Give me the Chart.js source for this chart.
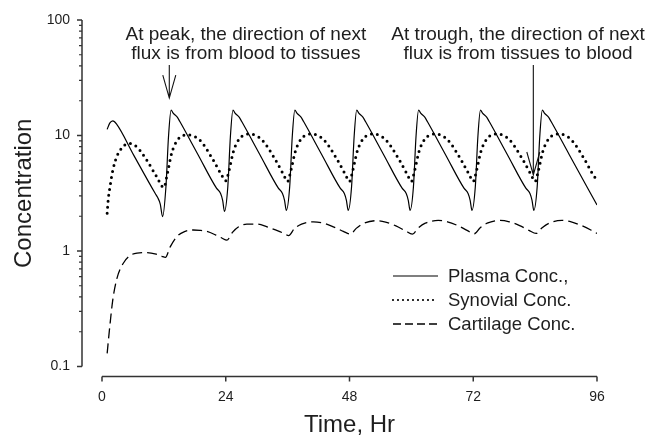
<!DOCTYPE html>
<html>
<head>
<meta charset="utf-8">
<title>Plasma, Synovial and Cartilage Concentration</title>
<script src="https://cdn.jsdelivr.net/npm/chart.js@4.4.1/dist/chart.umd.min.js"></script>
<style>
	html, body { margin: 0; padding: 0; background: #fff; }
	#wrap { width: 649px; height: 435px; }
</style>
</head>
<body>
<div id="wrap"><canvas id="concChart" width="649" height="435"></canvas></div>
<script>
//	Time (hr) and concentration values
var plasmaTime = [
	1, 1.5, 2.1, 2.8, 6.2, 10.3, 10.8, 11.3, 11.75,
	12.4, 12.9, 13.4, 13.8, 14.6, 15.1, 18.6, 22.2, 23.0, 23.4, 23.75,
	24.4, 24.9, 25.4, 25.8, 26.6, 27.1, 30.6, 34.2, 35.0, 35.4, 35.75,
	36.4, 36.9, 37.4, 37.8, 38.6, 39.1, 42.6, 46.2, 47.0, 47.4, 47.75,
	48.4, 48.9, 49.4, 49.8, 50.6, 51.1, 54.6, 58.2, 59.0, 59.4, 59.75,
	60.4, 60.9, 61.4, 61.8, 62.6, 63.1, 66.6, 70.2, 71.0, 71.4, 71.75,
	72.4, 72.9, 73.4, 73.8, 74.6, 75.1, 78.6, 82.2, 83.0, 83.4, 83.75,
	84.4, 84.9, 85.4, 85.8, 86.6, 87.1, 90.6, 96
];
var plasmaConc = [
	11.3, 12.8, 13.4, 12.6, 6.7, 3.16, 2.9, 2.55, 1.98,
	3.6, 9.8, 16.6, 15.6, 14.4, 13.2, 6.85, 3.5, 3.15, 2.75, 2.2,
	3.6, 9.8, 16.6, 15.6, 14.4, 13.2, 6.85, 3.5, 3.15, 2.75, 2.25,
	3.6, 9.8, 16.6, 15.6, 14.4, 13.2, 6.85, 3.5, 3.15, 2.75, 2.25,
	3.6, 9.8, 16.6, 15.6, 14.4, 13.2, 6.85, 3.5, 3.15, 2.75, 2.25,
	3.6, 9.8, 16.6, 15.6, 14.4, 13.2, 6.85, 3.5, 3.15, 2.75, 2.25,
	3.6, 9.8, 16.6, 15.6, 14.4, 13.2, 6.85, 3.5, 3.15, 2.75, 2.25,
	3.6, 9.8, 16.6, 15.6, 14.4, 13.2, 6.85, 2.5
];

var synovialTime = [
	1, 1.2, 1.55, 2.1, 2.85, 3.8, 5.1, 6.7, 8.7, 10.6, 12.0,
	12.6, 13.5, 14.6, 16.7, 19.0, 21.6, 23.2, 24.0,
	24.6, 25.5, 26.6, 28.7, 31.0, 33.6, 35.2, 36.0,
	36.6, 37.5, 38.6, 40.7, 43.0, 45.6, 47.2, 48.0,
	48.6, 49.5, 50.6, 52.7, 55.0, 57.6, 59.2, 60.0,
	60.6, 61.5, 62.6, 64.7, 67.0, 69.6, 71.2, 72.0,
	72.6, 73.5, 74.6, 76.7, 79.0, 81.6, 83.2, 84.0,
	84.6, 85.5, 86.6, 88.7, 91.0, 93.6, 95.2, 96.0
];
var synovialConc = [
	2.12, 2.77, 3.6, 5.0, 6.55, 7.75, 8.55, 8.0, 6.1, 4.4, 3.55,
	4.5, 7.0, 9.1, 10.1, 9.1, 6.1, 4.55, 4.05,
	4.9, 7.3, 9.3, 10.3, 9.2, 6.2, 4.6, 4.0,
	4.9, 7.3, 9.3, 10.3, 9.2, 6.2, 4.6, 4.0,
	4.9, 7.3, 9.3, 10.3, 9.2, 6.2, 4.6, 4.0,
	4.9, 7.3, 9.3, 10.3, 9.2, 6.2, 4.6, 4.0,
	4.9, 7.3, 9.3, 10.3, 9.2, 6.2, 4.6, 4.0,
	4.9, 7.3, 9.3, 10.3, 9.2, 6.2, 4.6, 4.1
];

var cartilageTime = [
	1, 1.5, 2.1, 2.9, 4.1, 5.4, 6.8, 8.7, 10.5, 11.6, 12.3,
	13.2, 14.5, 16.0, 17.7, 19.0, 20.3, 22.0, 23.3, 24.2,
	25.3, 26.5, 28.1, 30.0, 32.0, 34.0, 35.3, 36.2,
	37.3, 38.7, 41.0, 43.0, 45.0, 46.8, 48.2,
	49.3, 50.7, 53.2, 55.0, 57.0, 58.8, 60.2,
	61.3, 62.7, 65.2, 67.0, 69.0, 70.8, 72.2,
	73.3, 74.7, 77.2, 79.0, 81.0, 82.8, 84.2,
	85.3, 86.7, 89.2, 91.0, 93.0, 94.8, 96.0
];
var cartilageConc = [
	0.13, 0.22, 0.38, 0.58, 0.78, 0.91, 0.96, 0.97, 0.94, 0.90, 0.88,
	1.08, 1.33, 1.47, 1.52, 1.51, 1.48, 1.38, 1.29, 1.24,
	1.45, 1.62, 1.71, 1.71, 1.62, 1.50, 1.42, 1.36,
	1.56, 1.71, 1.79, 1.74, 1.61, 1.48, 1.40,
	1.57, 1.73, 1.83, 1.78, 1.65, 1.50, 1.40,
	1.58, 1.74, 1.84, 1.79, 1.66, 1.51, 1.41,
	1.58, 1.74, 1.84, 1.79, 1.66, 1.51, 1.42,
	1.58, 1.74, 1.84, 1.79, 1.66, 1.52, 1.42
];

var seriesLabels = ['Plasma Conc.,', 'Synovial Conc.', 'Cartilage Conc.'];
var xTicks = [0, 24, 48, 72, 96];
var yTicks = [0.1, 1, 10, 100];

//	Text notes with their arrows, anchored in data units (hr, concentration)
var notes = [
	{ lines: ['At peak, the direction of next', 'flux is from blood to tissues'], x: 27.9, y: 67.2, arrowX: 13.05, arrowFrom: 40.7, arrowTo: 21.1 },
	{ lines: ['At trough, the direction of next', 'flux is from tissues to blood'], x: 80.7, y: 67.2, arrowX: 83.65, arrowFrom: 40.7, arrowTo: 4.55 }
];

var fontFamily = '"Liberation Sans", Arial, Helvetica, sans-serif';
var inkColor = '#1e1e1e';

function toPoints(times, values) {
	return times.map(function (t, i) {
		return { x: t, y: values[i] };
	});
}

/**
 *	Draws the detached axis lines (Sigmaplot style) with major and minor ticks
 */
var offsetAxes = {
	id: 'offsetAxes',
	beforeDatasetsDraw: function (chart) {
		var ctx = chart.ctx;
		var xs = chart.scales.x;
		var ys = chart.scales.y;
		var area = chart.chartArea;
		var axisX = area.left - 20;
		var axisY = area.bottom + 10;
		ctx.save();
		ctx.strokeStyle = '#333';
		ctx.lineWidth = 1.5;
		ctx.beginPath();
		ctx.moveTo(axisX, ys.getPixelForValue(yTicks[yTicks.length - 1]));
		ctx.lineTo(axisX, ys.getPixelForValue(yTicks[0]));
		yTicks.forEach(function (v) {
			var p = ys.getPixelForValue(v);
			ctx.moveTo(axisX - 5, p);
			ctx.lineTo(axisX, p);
		});
		ctx.stroke();
		//	minor ticks 2..9 in every decade
		ctx.lineWidth = 1.2;
		ctx.beginPath();
		for (let d = 0; d < yTicks.length - 1; d++) {
			for (let m = 2; m < 10; m++) {
				var p = ys.getPixelForValue(yTicks[d] * m);
				ctx.moveTo(axisX - 3, p);
				ctx.lineTo(axisX, p);
			}
		}
		ctx.stroke();
		ctx.lineWidth = 1.5;
		ctx.beginPath();
		ctx.moveTo(xs.getPixelForValue(xTicks[0]), axisY);
		ctx.lineTo(xs.getPixelForValue(xTicks[xTicks.length - 1]), axisY);
		xTicks.forEach(function (v) {
			var p = xs.getPixelForValue(v);
			ctx.moveTo(p, axisY);
			ctx.lineTo(p, axisY + 5);
		});
		ctx.stroke();
		ctx.restore();
	}
};

/**
 *	Draws the two text notes and their open arrows
 */
var notesPlugin = {
	id: 'notes',
	afterDraw: function (chart) {
		var ctx = chart.ctx;
		var xs = chart.scales.x;
		var ys = chart.scales.y;
		ctx.save();
		ctx.fillStyle = inkColor;
		ctx.strokeStyle = '#111';
		ctx.font = '19px ' + fontFamily;
		ctx.textAlign = 'center';
		ctx.textBaseline = 'alphabetic';
		notes.forEach(function (n) {
			var cx = xs.getPixelForValue(n.x);
			var cy = ys.getPixelForValue(n.y);
			n.lines.forEach(function (line, i) {
				ctx.fillText(line, cx, cy + i * 19);
			});
			var ax = xs.getPixelForValue(n.arrowX);
			var top = ys.getPixelForValue(n.arrowFrom);
			var tip = ys.getPixelForValue(n.arrowTo);
			ctx.lineWidth = 1.1;
			ctx.beginPath();
			ctx.moveTo(ax, top);
			ctx.lineTo(ax, tip);
			ctx.moveTo(ax - 6.5, tip - 23);
			ctx.lineTo(ax, tip);
			ctx.lineTo(ax + 6.5, tip - 23);
			ctx.stroke();
		});
		ctx.restore();
	}
};

/**
 *	Legend drawn inside the plot, using each dataset's own line style
 */
var innerLegend = {
	id: 'innerLegend',
	afterDraw: function (chart) {
		var ctx = chart.ctx;
		var left = chart.chartArea.right - 204;
		var top = 277;
		var samples = [[], [0, 5], [8, 4]];
		var widths = [1.2, 2.2, 1.3];
		ctx.save();
		ctx.font = '18.5px ' + fontFamily;
		ctx.textAlign = 'left';
		ctx.textBaseline = 'middle';
		chart.data.datasets.forEach(function (ds, i) {
			var y = top + i * 24;
			ctx.strokeStyle = ds.borderColor;
			ctx.lineWidth = widths[i];
			ctx.lineCap = i === 1 ? 'round' : 'butt';
			ctx.setLineDash(samples[i]);
			ctx.beginPath();
			ctx.moveTo(left, y - 1);
			ctx.lineTo(left + 45, y - 1);
			ctx.stroke();
			ctx.setLineDash([]);
			ctx.fillStyle = inkColor;
			ctx.fillText(ds.label, left + 55, y);
		});
		ctx.restore();
	}
};

var ctx = document.getElementById('concChart');
var concChart = new Chart(ctx, {
	type: 'line',
	data: {
		datasets: [{
				label: seriesLabels[0],
				data: toPoints(plasmaTime, plasmaConc),
				borderColor: '#000',
				borderWidth: 1.2,
				pointRadius: 0,
				cubicInterpolationMode: 'monotone',
				fill: false
			},
			{
				label: seriesLabels[1],
				data: toPoints(synovialTime, synovialConc),
				borderColor: '#000',
				borderWidth: 3,
				borderDash: [0, 6],
				borderCapStyle: 'round',
				pointRadius: 0,
				cubicInterpolationMode: 'monotone',
				fill: false
			},
			{
				label: seriesLabels[2],
				data: toPoints(cartilageTime, cartilageConc),
				borderColor: '#000',
				borderWidth: 1.3,
				borderDash: [10, 5],
				pointRadius: 0,
				cubicInterpolationMode: 'monotone',
				fill: false
			}
		]
	},
	options: {
		responsive: false,
		animation: false,
		layout: {
			padding: { left: 0, right: 52, top: 20, bottom: 0 }
		},
		plugins: {
			legend: { display: false },
			tooltip: { enabled: false }
		},
		scales: {
			x: {
				type: 'linear',
				min: xTicks[0],
				max: xTicks[xTicks.length - 1],
				grid: { display: false, drawTicks: false },
				border: { display: false },
				ticks: {
					stepSize: 24,
					maxRotation: 0,
					padding: 22,
					color: inkColor,
					font: { family: fontFamily, size: 14 }
				},
				title: {
					display: true,
					text: 'Time, Hr',
					color: inkColor,
					font: { family: fontFamily, size: 24 },
					padding: { top: 0, bottom: -5 }
				},
				afterFit: function (scale) {
					scale.height = 68.5;
				}
			},
			y: {
				type: 'logarithmic',
				min: yTicks[0],
				max: yTicks[yTicks.length - 1],
				grid: { display: false, drawTicks: false },
				border: { display: false },
				afterBuildTicks: function (scale) {
					scale.ticks = yTicks.map(function (v) { return { value: v }; });
				},
				ticks: {
					padding: 32,
					color: inkColor,
					font: { family: fontFamily, size: 14 },
					callback: function (value) { return String(value); }
				},
				title: {
					display: true,
					text: 'Concentration',
					color: inkColor,
					font: { family: fontFamily, size: 24 },
					padding: { top: 10, bottom: 0 }
				},
				afterFit: function (scale) {
					//	the big label gap must not push the plot area down
					scale.width = 102;
					scale.paddingTop = 9;
					scale.paddingBottom = 9;
				}
			}
		}
	},
	plugins: [offsetAxes, notesPlugin, innerLegend]
});
</script>
</body>
</html>
